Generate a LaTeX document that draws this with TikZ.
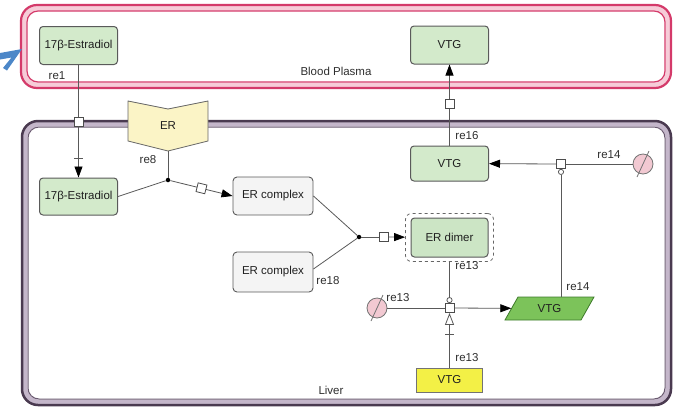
\documentclass[tikz,border=0pt]{standalone}
\usepackage{fontspec}
\setmainfont{Liberation Sans}
\usetikzlibrary{arrows.meta,shapes.geometric,calc}
\definecolor{sgreen}{HTML}{D3EACB}
\definecolor{dgreen}{HTML}{CCE5C5}
\definecolor{pgreen}{HTML}{7CC35A}
\definecolor{pgreenb}{HTML}{3D7A2A}
\definecolor{cfill}{HTML}{F4F4F4}
\definecolor{eryellow}{HTML}{FBF4C6}
\definecolor{vyellow}{HTML}{F3F046}
\definecolor{degpink}{HTML}{F2C9D2}
\definecolor{crimson}{HTML}{D43A6A}
\definecolor{pinkband}{HTML}{F6CCD8}
\definecolor{liverdark}{HTML}{4A3A50}
\definecolor{liverband}{HTML}{C4B6CA}
\definecolor{liverinner}{HTML}{6A5A70}
\definecolor{chevblue}{HTML}{4C87C8}
\definecolor{bordergray}{HTML}{5A5A5A}
\begin{document}
\begin{tikzpicture}[x=1pt,y=-1pt,
  every node/.style={font=\fontsize{11.5}{13}\selectfont, text=black!88},
  species/.style={draw=bordergray, line width=1pt, rounded corners=3.5pt, fill=sgreen,
    minimum width=78pt, minimum height=38pt, inner sep=0pt},
  cplx/.style={draw=bordergray, line width=0.9pt, rounded corners=4pt, fill=cfill,
    minimum width=80pt, minimum height=38pt, inner sep=0pt},
  sq/.style={draw=black!70, fill=white, minimum size=9pt, inner sep=0pt, line width=0.8pt},
  jdot/.style={circle, fill=black, minimum size=4.5pt, inner sep=0pt},
  degr/.style={circle, draw=black!55, fill=degpink, minimum size=20pt, inner sep=0pt, line width=0.8pt},
  lbl/.style={inner sep=0pt, text=black!82},
  conn/.style={draw=black!65, line width=0.8pt},
  prod/.style={conn, -{Triangle[length=11pt,width=8pt,color=black,fill=black]}},
]
\useasboundingbox (0,0) rectangle (675,408);

% compartments
\draw[line width=5pt, draw=pinkband, rounded corners=14pt] (24,8) rectangle (668,85);
\draw[line width=2.2pt, draw=crimson, rounded corners=16pt] (21,5) rectangle (671,88);
\draw[line width=1.2pt, draw=crimson, rounded corners=11pt] (27,11) rectangle (665,82);
\node[lbl] (bp) at (336,71) {Blood Plasma};

\draw[line width=5pt, draw=liverband, rounded corners=14pt] (25,124) rectangle (668,402);
\draw[line width=2.5pt, draw=liverdark, rounded corners=16pt] (22,121) rectangle (671,405);
\draw[line width=1pt, draw=liverinner, rounded corners=11pt] (28,127) rectangle (665,399);
\node[lbl] (liver) at (331,390) {Liver};

% blue chevron
\fill[chevblue] (0,53) -- (22,49) -- (7,70.5) -- (3,68) -- (11.5,57.5) -- (0,59.5) -- cycle;

% species
\node[species] (e1) at (78.5,45.5) {17β-Estradiol};
\node[species] (vtg1) at (449.5,45) {VTG};
\node[species, minimum height=37pt] (e2) at (78.5,196.5) {17β-Estradiol};
\node[species, minimum height=35pt] (vtg2) at (449.5,163.5) {VTG};
\node[cplx] (erc1) at (273,196) {ER complex};
\node[cplx, minimum height=40pt] (erc2) at (273,272) {ER complex};
\node[draw=black!60, dashed, line width=0.8pt, rounded corners=6pt, minimum width=88pt,
  minimum height=48pt, inner sep=0pt] (erdo) at (449.5,237.5) {};
\node[species, fill=dgreen, minimum width=77pt, minimum height=39pt] (erd) at (449.5,237.5) {ER dimer};
\node[draw=black!55, line width=0.8pt, fill=vyellow, minimum width=66pt, minimum height=24pt,
  inner sep=0pt] (yvtg) at (449.5,380) {VTG};
% parallelogram VTG
\draw[draw=pgreenb, line width=0.8pt, fill=pgreen]
  (505,320) -- (518,297) -- (594,297) -- (581,320) -- cycle;
\node[minimum width=76pt, minimum height=23pt, inner sep=0pt] (par) at (549.5,308.5) {VTG};

% ER receptor shape
\draw[fill=eryellow, draw=black!60, line width=0.8pt]
  (128,101) -- (168,109) -- (208,101) -- (208,141) -- (168,151) -- (128,141) -- cycle;
\node[minimum width=80pt, minimum height=50pt, inner sep=0pt] (er) at (168,126) {ER};

% process nodes
\node[sq] (sq1) at (78.5,121.5) {};
\node[sq] (sq16) at (449.5,104) {};
\node[sq] (sq14) at (561,164) {};
\node[sq] (sq13) at (449.5,308) {};
\node[sq] (sqd) at (384,237) {};
\node[jdot] (dot1) at (168,180) {};
\node[jdot] (dot2) at (359,237) {};
\node[degr] (deg1) at (377,308) {};
\node[degr] (deg2) at (643,164) {};
\draw[black!55, line width=0.8pt] ($(deg1)+(-6,13)$) -- ($(deg1)+(6,-13)$);
\draw[black!55, line width=0.8pt] ($(deg2)+(-6,13)$) -- ($(deg2)+(6,-13)$);

% re1
\draw[conn] (e1) -- (sq1);
\draw[prod] (sq1) -- (e2);
\draw[conn] ($(e2.north)+(-4.5,-19)$) -- ++(9,0);
\node[lbl] (re1) at (57,76) {re1};

% re8
\draw[conn] (e2.east) -- (dot1);
\draw[conn] (er.south) -- (dot1);
\draw[prod] (dot1) -- node[sq, sloped, pos=0.5] (sq8) {} (erc1.west);
\node[lbl] (re8) at (148,160) {re8};

% re18
\draw[conn] (erc1.east) -- (dot2);
\draw[conn] ($(erc2.east)+(0,-3)$) -- (dot2);
\draw[conn] (dot2) -- (sqd);
\draw[prod] (sqd) -- (erdo);
\node[lbl] (re18) at (328,281) {re18};

% re13
\draw[conn] (deg1) -- (sq13);
\draw[prod] (sq13) -- (par);
\draw[conn, -{Circle[open,length=6pt,width=6pt]}] (erdo) -- (sq13);
\draw[conn, -{Triangle[open,length=12pt,width=9pt]}] (yvtg) -- (sq13);
\draw[conn] ($(sq13.south)+(-4.5,21)$) -- ++(9,0);
\node[lbl] (re13a) at (467,266) {re13};
\node[lbl] (re13b) at (398,298) {re13};
\node[lbl] (re13c) at (467,358) {re13};

% re14
\draw[conn] (deg2) -- (sq14);
\draw[prod] (sq14) -- (vtg2);
\draw[conn, -{Circle[open,length=6pt,width=6pt]}] (sq14 |- par.north) -- (sq14);
\node[lbl] (re14a) at (609,155) {re14};
\node[lbl] (re14b) at (578,287) {re14};

% re16
\draw[conn] (vtg2) -- (sq16);
\draw[prod] (sq16) -- (vtg1);
\node[lbl] (re16) at (467,136) {re16};
\end{tikzpicture}
\end{document}
